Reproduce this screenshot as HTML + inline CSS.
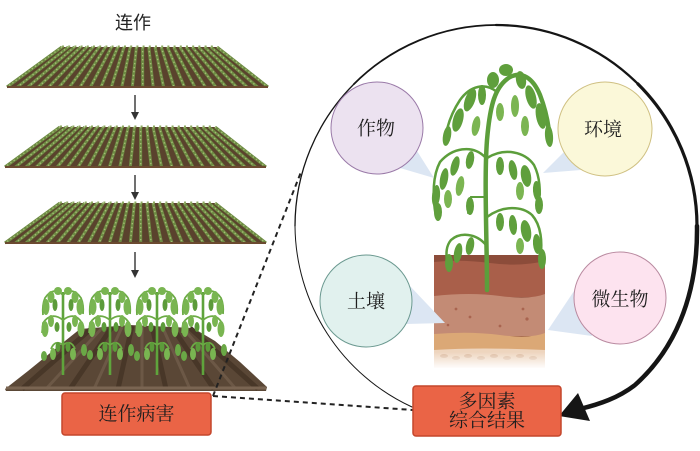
<!DOCTYPE html>
<html><head><meta charset="utf-8"><style>
html,body{margin:0;padding:0;background:#fff;}
svg{display:block;}
.cj{font-family:"Liberation Serif","Noto Serif CJK SC",serif;fill:#1e1e1e;}
.cs{font-family:"Liberation Sans","Noto Sans CJK SC",sans-serif;fill:#222;}
</style></head><body>
<svg width="700" height="451" viewBox="0 0 700 451" xmlns="http://www.w3.org/2000/svg">
<defs>
  <g id="field">
    <polygon points="62,47 217,47 268,87 7,87" fill="#5a422d"/>
    <path id="rows" d="M62 47L7 87M68.2 47L17.4 87M74.4 47L27.9 87M80.6 47L38.3 87M86.8 47L48.8 87M93 47L59.2 87M99.2 47L69.6 87M105.4 47L80.1 87M111.6 47L90.5 87M117.8 47L101 87M124 47L111.4 87M130.2 47L121.8 87M136.4 47L132.3 87M142.6 47L142.7 87M148.8 47L153.2 87M155 47L163.6 87M161.2 47L174 87M167.4 47L184.5 87M173.6 47L194.9 87M179.8 47L205.4 87M186 47L215.8 87M192.2 47L226.2 87M198.4 47L236.7 87M204.6 47L247.1 87M210.8 47L257.6 87M217 47L268 87" stroke="#6d8b43" stroke-width="3" fill="none"/>
    <path d="M62 47L7 87M68.2 47L17.4 87M74.4 47L27.9 87M80.6 47L38.3 87M86.8 47L48.8 87M93 47L59.2 87M99.2 47L69.6 87M105.4 47L80.1 87M111.6 47L90.5 87M117.8 47L101 87M124 47L111.4 87M130.2 47L121.8 87M136.4 47L132.3 87M142.6 47L142.7 87M148.8 47L153.2 87M155 47L163.6 87M161.2 47L174 87M167.4 47L184.5 87M173.6 47L194.9 87M179.8 47L205.4 87M186 47L215.8 87M192.2 47L226.2 87M198.4 47L236.7 87M204.6 47L247.1 87M210.8 47L257.6 87M217 47L268 87" stroke="#a6bd76" stroke-width="1.4" stroke-dasharray="1.4 2.6" fill="none"/>
    <path d="M62 46.5L217 46.5" stroke="#8eaa62" stroke-width="2" stroke-dasharray="2 4.2"/>
    <path d="M7 87L268 87" stroke="#6b4a30" stroke-width="2"/>
  </g>
  <g id="sp">
    <path d="M0 0 L0 -83" stroke="#5fa43c" stroke-width="2.6" fill="none"/>
    <path d="M0 -80 Q-10 -89 -18 -77 Q-21 -70 -20 -60 M0 -80 Q10 -89 18 -77 Q21 -70 20 -61 M0 -55 Q-12 -64 -20 -52 L-21 -42 M0 -55 Q12 -64 19 -52 L20 -44 M0 -30 Q-8 -36 -12 -26 M0 -30 Q8 -36 12 -26" stroke="#6cab45" stroke-width="1.8" fill="none"/>
    <g fill="#79b551">
      <ellipse cx="-17" cy="-68" rx="3.5" ry="8"/><ellipse cx="-12" cy="-78" rx="3.5" ry="6"/>
      <ellipse cx="-5" cy="-84" rx="4" ry="4"/><ellipse cx="5" cy="-84" rx="4" ry="4"/>
      <ellipse cx="12" cy="-78" rx="3.5" ry="6"/><ellipse cx="17" cy="-68" rx="3.5" ry="8"/>
      <ellipse cx="-18" cy="-46" rx="3.5" ry="8"/><ellipse cx="-12" cy="-54" rx="3" ry="6"/>
      <ellipse cx="12" cy="-54" rx="3" ry="6"/><ellipse cx="18" cy="-46" rx="3.5" ry="8"/>
      <ellipse cx="-10" cy="-21" rx="3" ry="6"/><ellipse cx="10" cy="-21" rx="3" ry="6"/>
    </g>
    <g fill="#5c9b3a">
      <ellipse cx="-8" cy="-70" rx="2.5" ry="6"/><ellipse cx="8" cy="-70" rx="2.5" ry="6"/>
      <ellipse cx="-6" cy="-48" rx="2.5" ry="5"/><ellipse cx="6" cy="-48" rx="2.5" ry="5"/>
      <ellipse cx="-5" cy="-28" rx="2.5" ry="5"/><ellipse cx="5" cy="-28" rx="2.5" ry="5"/>
    </g>
  </g>
  <linearGradient id="fade" x1="0" y1="0" x2="0" y2="1">
    <stop offset="0" stop-color="#fff" stop-opacity="0"/>
    <stop offset="1" stop-color="#fff" stop-opacity="1"/>
  </linearGradient>
</defs>

<!-- title -->
<text x="133" y="23" class="cs" font-size="18" text-anchor="middle" dominant-baseline="central">连作</text>

<!-- fields -->
<use href="#field"/>
<use href="#field" transform="translate(-2,80)"/>
<use href="#field" transform="translate(-2,156)"/>

<!-- arrows -->
<g stroke="#333" stroke-width="1.4" fill="#333">
  <line x1="135" y1="95" x2="135" y2="113"/><polygon points="131,112 139,112 135,120" stroke="none"/>
  <line x1="135" y1="175" x2="135" y2="193"/><polygon points="131,192 139,192 135,200" stroke="none"/>
  <line x1="135" y1="252" x2="135" y2="271"/><polygon points="131,270 139,270 135,278" stroke="none"/>
</g>

<!-- diseased field mound -->
<polygon points="5,389 28,371 60,345 80,329 130,325 193,328 215,341 240,362 267,387 266,391 6,391" fill="#5a4736"/>
<path d="M92 328L22 389M112 327L70 389M132 326L118 389M152 326L166 389M172 327L214 389M190 328L258 389" stroke="#483728" stroke-width="5" fill="none"/>
<path d="M102 328L46 389M122 327L94 389M142 326L142 389M162 326L190 389M182 327L236 389" stroke="#6c5846" stroke-width="3" fill="none"/>
<path d="M6 388L266 388" stroke="#7a6552" stroke-width="3"/>
<use href="#sp" transform="translate(63,375)"/>
<use href="#sp" transform="translate(110,375)"/>
<use href="#sp" transform="translate(157,375)"/>
<use href="#sp" transform="translate(203,375)"/>
<g fill="#6aa846">
  <ellipse cx="84" cy="350" rx="3" ry="6"/><ellipse cx="90" cy="355" rx="3" ry="5"/>
  <ellipse cx="131" cy="350" rx="3" ry="6"/><ellipse cx="137" cy="356" rx="3" ry="5"/>
  <ellipse cx="178" cy="350" rx="3" ry="6"/><ellipse cx="184" cy="356" rx="3" ry="5"/>
  <ellipse cx="224" cy="350" rx="3" ry="6"/><ellipse cx="44" cy="356" rx="3" ry="5"/>
</g>

<!-- box 1 -->
<rect x="62" y="393" width="149" height="42" rx="3" fill="#ea6446" stroke="#c4462c" stroke-width="1.5"/>
<text x="136.5" y="414.5" class="cj" font-size="19" text-anchor="middle" dominant-baseline="central">连作病害</text>

<!-- dashed connectors -->
<g stroke="#222" stroke-width="2" stroke-dasharray="5 4" fill="none">
  <path d="M213 396 L301 172"/>
  <path d="M213 396 L413 410"/>
</g>

<!-- big circular arrow -->
<g fill="none" stroke="#151515" stroke-linecap="round">
  <path d="M412 407 A201 201 0 0 1 295 226" stroke-width="1"/>
  <path d="M295 226 A201 201 0 0 1 354 84" stroke-width="1.3"/>
  <path d="M354 84 A201 201 0 0 1 496 25" stroke-width="1.8"/>
  <path d="M496 25 A201 201 0 0 1 638 84" stroke-width="2.3"/>
  <path d="M638 84 A201 201 0 0 1 697 226" stroke-width="3.2"/>
  <path d="M697 226 C698 300 672 352 635 385 C618 398 600 404 580 409" stroke-width="4.5"/>
</g>
<polygon points="559,416 578,393 590,421" fill="#151515"/>

<!-- soil column -->
<rect x="434" y="255" width="111" height="113" fill="#8c4c3a"/>
<path d="M434 262 Q460 259 490 263 T545 261 L545 297 L434 297Z" fill="#a95f4a"/>
<path d="M434 296 Q470 292 500 296 T545 294 L545 336 L434 336Z" fill="#c38b75"/>
<path d="M434 334 Q470 331 500 335 T545 333 L545 352 L434 352Z" fill="#dba876"/>
<path d="M434 350 Q480 347 545 350 L545 368 L434 368Z" fill="#eed5be"/>
<g fill="#a9644f">
  <circle cx="456" cy="309" r="1.4"/><circle cx="470" cy="317" r="1.4"/><circle cx="500" cy="326" r="1.4"/>
  <circle cx="523" cy="309" r="1.4"/><circle cx="527" cy="319" r="1.6"/><circle cx="448" cy="325" r="1.3"/>
</g>
<g fill="#ddbba0">
  <ellipse cx="444" cy="356" rx="4" ry="2"/><ellipse cx="456" cy="358" rx="4" ry="2"/><ellipse cx="468" cy="356" rx="4" ry="2"/>
  <ellipse cx="481" cy="358" rx="4" ry="2"/><ellipse cx="494" cy="356" rx="4" ry="2"/><ellipse cx="507" cy="358" rx="4" ry="2"/>
  <ellipse cx="520" cy="356" rx="4" ry="2"/><ellipse cx="533" cy="358" rx="4" ry="2"/>
</g>
<rect x="432" y="352" width="115" height="17" fill="url(#fade)"/>

<!-- central plant -->
<g fill="none" stroke-linecap="round">
  <path d="M487 290 C487 240 484 180 487 140 C490 105 495 86 510 77 C522 71 533 78 540 95 C545 108 549 125 550 142" stroke="#5c9e3b" stroke-width="4.5"/>
  <path d="M497 92 C485 82 470 86 460 100 C452 112 447 125 445 140" stroke="#5c9e3b" stroke-width="2.5"/>
  <path d="M485 157 C472 144 452 148 440 162 C433 175 432 195 436 217" stroke="#5c9e3b" stroke-width="2.5"/>
  <path d="M487 158 C505 147 525 152 534 165 C540 177 541 192 538 204" stroke="#5c9e3b" stroke-width="2.5"/>
  <path d="M486 197 L471 197 L468 213" stroke="#5c9e3b" stroke-width="2"/>
  <path d="M487 217 C503 205 522 206 532 215 C541 225 543 242 540 260" stroke="#5c9e3b" stroke-width="2.5"/>
  <path d="M486 245 C476 233 460 232 451 240 C446 246 446 253 447 262" stroke="#5c9e3b" stroke-width="2.5"/>
</g>
<g fill="#5f9f3c">
  <ellipse cx="470" cy="100" rx="5" ry="12" transform="rotate(20 470 100)"/>
  <ellipse cx="458" cy="120" rx="5" ry="12" transform="rotate(15 458 120)"/>
  <ellipse cx="447" cy="136" rx="4" ry="10" transform="rotate(10 447 136)"/>
  <ellipse cx="482" cy="95" rx="4" ry="10"/>
  <ellipse cx="493" cy="80" rx="6" ry="8"/>
  <ellipse cx="506" cy="70" rx="7" ry="6"/>
  <ellipse cx="521" cy="80" rx="5" ry="9" transform="rotate(-10 521 80)"/>
  <ellipse cx="531" cy="97" rx="5" ry="12" transform="rotate(-15 531 97)"/>
  <ellipse cx="541" cy="116" rx="5" ry="13" transform="rotate(-10 541 116)"/>
  <ellipse cx="549" cy="136" rx="4" ry="11" transform="rotate(-5 549 136)"/>
  <ellipse cx="470" cy="160" rx="4" ry="9" transform="rotate(10 470 160)"/>
  <ellipse cx="455" cy="166" rx="4" ry="10" transform="rotate(15 455 166)"/>
  <ellipse cx="444" cy="179" rx="4" ry="11" transform="rotate(10 444 179)"/>
  <ellipse cx="436" cy="196" rx="4" ry="11" transform="rotate(5 436 196)"/>
  <ellipse cx="438" cy="212" rx="4" ry="9"/>
  <ellipse cx="500" cy="166" rx="4" ry="9"/>
  <ellipse cx="513" cy="170" rx="4" ry="10" transform="rotate(-10 513 170)"/>
  <ellipse cx="526" cy="176" rx="5" ry="11" transform="rotate(-10 526 176)"/>
  <ellipse cx="537" cy="191" rx="4" ry="10" transform="rotate(-5 537 191)"/>
  <ellipse cx="539" cy="205" rx="4" ry="9"/>
  <ellipse cx="470" cy="206" rx="4" ry="9"/>
  <ellipse cx="500" cy="222" rx="4" ry="9"/>
  <ellipse cx="513" cy="225" rx="4" ry="10" transform="rotate(-5 513 225)"/>
  <ellipse cx="526" cy="231" rx="5" ry="11" transform="rotate(-10 526 231)"/>
  <ellipse cx="537" cy="244" rx="4" ry="10" transform="rotate(-5 537 244)"/>
  <ellipse cx="542" cy="259" rx="4" ry="10"/>
  <ellipse cx="470" cy="246" rx="4" ry="9" transform="rotate(10 470 246)"/>
  <ellipse cx="458" cy="253" rx="4" ry="10" transform="rotate(10 458 253)"/>
  <ellipse cx="449" cy="263" rx="4" ry="9"/>
</g>
<g fill="#7bb552">
  <ellipse cx="515" cy="106" rx="4" ry="11"/>
  <ellipse cx="525" cy="126" rx="4" ry="10"/>
  <ellipse cx="500" cy="112" rx="4" ry="9"/>
  <ellipse cx="476" cy="126" rx="4" ry="10" transform="rotate(10 476 126)"/>
  <ellipse cx="460" cy="186" rx="4" ry="10" transform="rotate(10 460 186)"/>
  <ellipse cx="448" cy="199" rx="4" ry="9"/>
  <ellipse cx="520" cy="191" rx="4" ry="9"/>
  <ellipse cx="520" cy="246" rx="4" ry="8"/>
</g>

<!-- speech tails -->
<g fill="#dce6f3">
  <polygon points="417,151 400,168 434,178"/>
  <polygon points="581,170 564,152 543,173"/>
  <polygon points="409,285 406,324 445,323"/>
  <polygon points="578,285 592,336 548,330"/>
</g>

<!-- factor circles -->
<circle cx="377" cy="128" r="46" fill="#ece2f0" stroke="#9a7aa8" stroke-width="1"/>
<circle cx="605" cy="129" r="47" fill="#fbf8d9" stroke="#cfc082" stroke-width="1"/>
<circle cx="366" cy="301" r="46" fill="#e1f1ee" stroke="#6b9990" stroke-width="1"/>
<circle cx="620" cy="298" r="46" fill="#fde3ef" stroke="#b98aa0" stroke-width="1"/>
<text x="376" y="129" class="cj" font-size="19" text-anchor="middle" dominant-baseline="central">作物</text>
<text x="603" y="130" class="cj" font-size="19" text-anchor="middle" dominant-baseline="central">环境</text>
<text x="366" y="302" class="cj" font-size="19" text-anchor="middle" dominant-baseline="central">土壤</text>
<text x="620" y="300" class="cj" font-size="19" text-anchor="middle" dominant-baseline="central">微生物</text>

<!-- box 2 -->
<rect x="413" y="386" width="148" height="50" rx="3" fill="#ea6446" stroke="#c4462c" stroke-width="1.5"/>
<text x="487" y="402" class="cj" font-size="19" text-anchor="middle" dominant-baseline="central">多因素</text>
<text x="487" y="421" class="cj" font-size="19" text-anchor="middle" dominant-baseline="central">综合结果</text>
</svg>
</body></html>
